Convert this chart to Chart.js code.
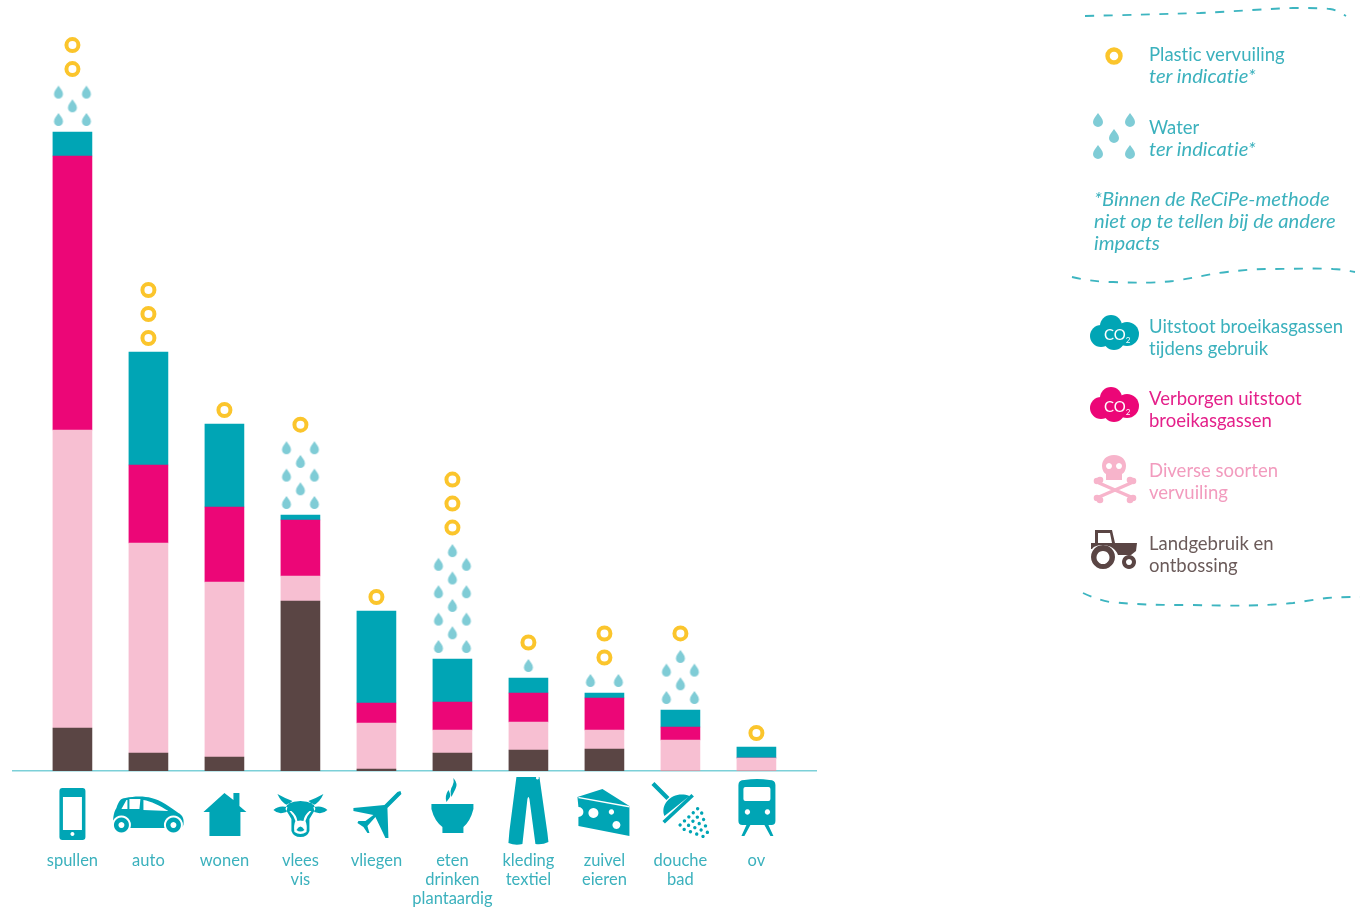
<!DOCTYPE html>
<html lang="nl">
<head>
<meta charset="utf-8">
<title>Impact</title>
<script src="https://cdn.jsdelivr.net/npm/chart.js@4"></script>
<style>
html,body{margin:0;padding:0;background:#fff;width:1360px;height:909px;overflow:hidden;font-family:Lato,"Noto Sans",sans-serif}
#chart{position:absolute;left:0;top:0;display:block}
#art{position:absolute;left:0;top:0;pointer-events:none}
.lg{position:absolute;left:1149px;font-size:18.5px;line-height:22px;white-space:nowrap;color:#3BB1BD;font-variant-ligatures:none}
.lg i{display:block;font-size:20.2px;line-height:22px;position:relative;top:-1px}
</style>
</head>
<body>
<canvas id="chart" width="1360" height="909"></canvas>
<svg id="art" width="1360" height="909" viewBox="0 0 1360 909">
  <g fill="none" stroke="#3DB5C0" stroke-width="1.9" stroke-dasharray="9 9.600">
    <path d="M1085 16C1130 15 1160 14 1200 13C1240 11 1265 9 1293 8C1310 8 1322 8 1330 9C1337 10 1341 13 1346 16"/>
    <path d="M1072 277C1085 280 1098 282 1113 282C1135 283 1155 283 1173 281C1195 278 1208 274 1227 272C1245 270 1255 269 1267 269C1290 269 1315 268 1333 269C1342 269 1349 271 1355 272"/>
    <path d="M1083 593C1092 597 1100 600 1110 602C1140 605 1165 605 1193 605C1230 606 1265 606 1293 603C1307 601 1317 599 1327 598C1340 597 1350 597 1360 597"/>
  </g>
  <circle cx="1114" cy="56" r="6.5" fill="none" stroke="#FBC52C" stroke-width="4.4"/>
  <g fill="#7FCCD6">
    <path d="M1098 113c2 3 5 6 5 9a5 5 0 0 1-10 0c0-3 3-6 5-9z"/>
    <path d="M1130 113c2 3 5 6 5 9a5 5 0 0 1-10 0c0-3 3-6 5-9z"/>
    <path d="M1114 129c2 3 5 6 5 9a5 5 0 0 1-10 0c0-3 3-6 5-9z"/>
    <path d="M1098 145c2 3 5 6 5 9a5 5 0 0 1-10 0c0-3 3-6 5-9z"/>
    <path d="M1130 145c2 3 5 6 5 9a5 5 0 0 1-10 0c0-3 3-6 5-9z"/>
  </g>
  <g fill="#00A5B5">
    <circle cx="1101" cy="336" r="11"/><circle cx="1127" cy="334" r="12"/><circle cx="1111" cy="326" r="11"/><circle cx="1114" cy="339" r="11"/>
  </g>
  <text x="1104" y="340" font-family="'Liberation Sans Narrow',Lato" font-size="15" fill="#fff">CO<tspan font-size="8" dy="3">2</tspan></text>
  <g fill="#EC0677">
    <circle cx="1101" cy="408" r="11"/><circle cx="1127" cy="406" r="12"/><circle cx="1111" cy="398" r="11"/><circle cx="1114" cy="411" r="11"/>
  </g>
  <text x="1104" y="412" font-family="'Liberation Sans Narrow',Lato" font-size="15" fill="#fff">CO<tspan font-size="8" dy="3">2</tspan></text>
  <g fill="#F7B4CB">
    <path fill-rule="evenodd" d="M1114 455c8 0 12 5 12 11c0 4-2 7-4 8v6h-16v-6c-2-1-4-4-4-8c0-6 4-11 12-11zM1109 463a3 3 0 1 0 .01 0zM1119 463a3 3 0 1 0 .01 0z"/>
  </g>
  <g stroke="#F7B4CB" stroke-width="3.4" stroke-linecap="round" fill="#F7B4CB">
    <path d="M1099 483L1131 497M1131 483L1099 497"/>
    <circle cx="1097" cy="481" r="1.6"/><circle cx="1100" cy="480" r="1.6"/>
    <circle cx="1133" cy="481" r="1.6"/><circle cx="1130" cy="480" r="1.6"/>
    <circle cx="1097" cy="498" r="1.6"/><circle cx="1100" cy="500" r="1.6"/>
    <circle cx="1133" cy="498" r="1.6"/><circle cx="1130" cy="500" r="1.6"/>
  </g>
  <g fill="#5A4544">
    <path fill-rule="evenodd" d="M1095 530h17l3 13h22l-1 8l-5 4h-13c-2-6-8-10-16-10c-4 0-8 1-10 4h-1v-6l4 0zM1098 533v10h14l-2-10z"/>
    <path fill-rule="evenodd" d="M1103 545a12 12 0 1 0 .01 0zM1103 551a6.500 6.500 0 1 1-.01 0z"/>
    <path fill-rule="evenodd" d="M1129 555a7 7 0 1 0 .01 0zM1129 559a3 3 0 1 1-.01 0z"/>
  </g>
</svg>
<div class="lg" style="top:43px">Plastic vervuiling<i>ter indicatie*</i></div>
<div class="lg" style="top:116px">Water<i>ter indicatie*</i></div>
<div class="lg" style="top:188px;left:1094px"><i>*Binnen de ReCiPe-methode</i><i>niet op te tellen bij de andere</i><i>impacts</i></div>
<div class="lg" style="top:315px">Uitstoot broeikasgassen<br>tijdens gebruik</div>
<div class="lg" style="top:387px;color:#E4208A">Verborgen uitstoot<br>broeikasgassen</div>
<div class="lg" style="top:459px;color:#F29BBE">Diverse soorten<br>vervuiling</div>
<div class="lg" style="top:532px;color:#6B5B5A">Landgebruik en<br>ontbossing</div>
<script>
const categories = [["spullen"],["auto"],["wonen"],["vlees","vis"],["vliegen"],["eten","drinken","plantaardig"],["kleding","textiel"],["zuivel","eieren"],["douche","bad"],["ov"]];
const landgebruik = [43,18,14,170,2,18,21,22,0,0];
const vervuiling  = [298,210,175,25,46,23,28,19,31,13];
const verborgen   = [274,78,75,56,20,28,29,32,13,0];
const uitstoot    = [24,113,83,5,92,43,15,5,17,11];
const plasticRings = [2,3,1,1,1,3,1,2,1,1];
const waterDrops   = [5,0,0,8,0,12,1,2,6,0];
const TEAL='#00A5B5', MAGENTA='#EC0677', PINK='#F7BFD2', BROWN='#5A4544';

/* marks above the bars follow from the bar totals and the counts */
const DROP_DX=0.184, ROW=13.7;
const ringPts=[], dropPts=[];
categories.forEach((c,i)=>{
  const total=landgebruik[i]+vervuiling[i]+verborgen[i]+uitstoot[i];
  let y=total, left=waterDrops[i], row=0;
  while(left>0){
    y=total+12.5+row*ROW;
    if(row%2===0 && left>=2){dropPts.push({x:i-DROP_DX,y},{x:i+DROP_DX,y});left-=2;}
    else{dropPts.push({x:i,y});left-=1;}
    row++;
  }
  let ry = waterDrops[i]>0 ? y+23 : total+14;
  for(let k=0;k<plasticRings[i];k++){ringPts.push({x:i,y:ry+k*24});}
});

const dropImg=document.createElement('canvas');dropImg.width=12;dropImg.height=15;
(()=>{const c=dropImg.getContext('2d');c.fillStyle='#7FCCD6';
  c.fill(new Path2D('M6 1C8 4 10.500 6.500 10.500 9.500A4.500 4.500 0 0 1 1.500 9.500C1.500 6.500 4 4 6 1Z'));})();

/* icon shapes: local x from the category centre, y below the baseline */
const W='#fff';
const icons=[
 [[TEAL,'M-10 17H10a3 3 0 0 1 3 3V66a3 3 0 0 1-3 3H-10a3 3 0 0 1-3-3V20a3 3 0 0 1 3-3Z M-9.500 26V59H9.500V26Z M0 61a2 2 0 1 0 .01 0Z']],
 [[TEAL,'M-35 54C-36 46-34 40-32 37C-30 31-28 27-23 27C-14 25-4 25 3 27C12 29 22 36 30 42C34 44 36 48 35 54C34 57 30 57 28 57H-30C-33 57-35 56-35 54Z'],
  [W,'M-27 38L-22 29H-21V38Z M-19 28H-8L-9 38H-19Z M-5 29C2 30 12 35 20 40L-5 39Z M-27 44.500a9.500 9.500 0 1 0 .01 0Z M25 44.500a9.500 9.500 0 1 0 .01 0Z'],
  [TEAL,'M-27 46.500a7.500 7.500 0 1 0 .01 0Z M25 46.500a7.500 7.500 0 1 0 .01 0Z'],
  [W,'M-27 51a3 3 0 1 0 .01 0Z M25 51a3 3 0 1 0 .01 0Z']],
 [[TEAL,'M-21 41L0 22L9 29V22H15V35L22 41H16V65H-15V41Z']],
 [[TEAL,'M-13 33Q0 27 13 33L15 38L9 48L9 60Q7 66 0 66Q-7 66-9 60L-9 48L-15 38Z M-13 34Q-19 32-23 23Q-16 27-8 30Z M13 34Q19 32 23 23Q16 27 8 30Z M-13 36Q-22 34-27 39Q-22 44-14 41Z M13 36Q22 34 27 39Q22 44 14 41Z'],
  [W,'M-6 61Q-7 54-5 50Q-7 44-11 40L-9 40Q-4 44-3 50Q0 49 3 50Q4 44 9 40L11 40Q7 44 5 50Q7 54 6 61Q0 65-6 61Z'],
  [TEAL,'M-4 59Q0 52 4 59Q0 62-4 59Z']],
 [[TEAL,'M24 20L25 23L11 37L12 67L9 67L-1 46L-9 55L-7 62L-9 62L-13 56L-19 52L-18 50L-11 50L-3 44L-23 40L-23 37L8 34L21 21Z']],
 [[TEAL,'M-21 33H21V38Q18 50 11 56V62H-10V56Q-18 50-21 38Z M1 7Q6 13 3 18Q1 22-1 26Q-3 19 0 15Q2 11 1 7Z M-4 19Q-1 24-3 27L-6 31Q-8 25-4 19Z']],
 [[TEAL,'M-12 6H11L19 62L20 71Q14 74 7 73L1 28Q0 24-1 28L-6 73Q-13 75-20 72L-19 60Z'],[W,'M9 5.500a1.500 1.500 0 1 0 .01 0Z']],
 [[TEAL,'M-27 26L-2 18L25 35V65L-26 55V46A5 5 0 0 0-26 36Z'],
  [W,'M-27 27L25 36.500V35L-25 26Z M-11 37a5 5 0 1 0 .01 0Z M7 38.300a2.700 2.700 0 1 0 .01 0Z M12 50a4 4 0 1 0 .01 0Z']],
 [[TEAL,'M-29 14L-26 11L-11 26L-14 29Z M-16 45C-21 32-6 19 9 25Z M-18 50L11 23L13.500 25.500L-15.500 52.500Z']],
 [[TEAL,'M-18 14Q-18 9-12 9Q1 7 13 9Q19 9 19 14V50Q19 54 15 54H-14Q-18 54-18 50Z M-10 54L-15 65H-12L-6 54Z M12 54L17 65H14L8 54Z'],
  [W,'M-11 16H12Q14 16 14 18V28Q14 30 12 30H-11Q-13 30-13 28V18Q-13 16-11 16Z M-9 38.300a2.700 2.700 0 1 0 .01 0Z M11 38.300a2.700 2.700 0 1 0 .01 0Z']]
];
let showerDots='';
[[-12,12],[-12,12],[-9,9],[-6,6],[-3,3]].forEach((r,n)=>{
  for(let u=r[0];u<=r[1];u+=6){
    const x=3+0.73*u+0.68*(8+n*6), y=40-0.68*u+0.73*(8+n*6);
    showerDots+=`M${x} ${y-1.7}a1.700 1.700 0 1 0 .01 0Z `;
  }
});
icons[8].push([TEAL,showerDots]);

const iconPlugin={id:'icons',afterDraw(chart){
  const c=chart.ctx,xs=chart.scales.x,base=chart.scales.y.getPixelForValue(0);
  icons.forEach((layers,i)=>{
    c.save();c.translate(xs.getPixelForValue(i),base);
    layers.forEach(([col,d])=>{c.fillStyle=col;c.fill(new Path2D(d),'evenodd');});
    c.restore();
  });
}};

const pts=a=>a.map((y,x)=>({x,y}));
const bar=(label,arr,color)=>({type:'bar',label,data:pts(arr),backgroundColor:color,borderWidth:0,barThickness:39,xAxisID:'x',yAxisID:'y',stack:'s',order:2});

new Chart(document.getElementById('chart'),{
  data:{datasets:[
    bar('Landgebruik en ontbossing',landgebruik,BROWN),
    bar('Diverse soorten vervuiling',vervuiling,PINK),
    bar('Verborgen uitstoot broeikasgassen',verborgen,MAGENTA),
    bar('Uitstoot broeikasgassen tijdens gebruik',uitstoot,TEAL),
    {type:'scatter',label:'Water',data:dropPts,pointStyle:dropImg,pointRadius:6,xAxisID:'x',yAxisID:'y2',order:1},
    {type:'scatter',label:'Plastic vervuiling',data:ringPts,pointStyle:'circle',pointRadius:6,pointBorderWidth:4,pointBorderColor:'#FBC52C',pointBackgroundColor:'rgba(255,255,255,0)',xAxisID:'x',yAxisID:'y2',order:0}
  ]},
  options:{
    responsive:false,animation:false,devicePixelRatio:1,
    layout:{autoPadding:false,padding:{left:13,right:544,top:0,bottom:0}},
    plugins:{legend:{display:false},tooltip:{enabled:false}},
    scales:{
      x:{type:'linear',stacked:true,offset:false,min:-0.782,max:9.784,
         grid:{display:false,offset:false},
         border:{display:true,color:'#7CD0D8',width:1.5},
         afterFit(s){s.height=138;s.paddingLeft=0;s.paddingRight=0;},
         ticks:{stepSize:1,includeBounds:false,autoSkip:false,maxRotation:0,minRotation:0,padding:72,
           color:'#3BB1BD',font:{family:'Lato',size:16.5,lineHeight:1.15},
           callback:v=>categories[v]||''}},
      y:{display:false,stacked:true,min:0,max:771},
      y2:{display:false,min:0,max:771}
    }
  },
  plugins:[iconPlugin]
});
</script>
</body>
</html>
